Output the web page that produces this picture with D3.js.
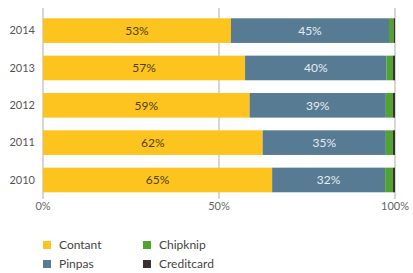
<!DOCTYPE html>
<html>
<head>
<meta charset="utf-8">
<script src="https://cdn.jsdelivr.net/npm/d3@7"></script>
<style>
  body { margin: 0; background: #fff; }
  text { font-family: Lato, "Open Sans", sans-serif; }
</style>
</head>
<body>
<div id="chart"></div>
<script>
// Data
const years = ["2014", "2013", "2012", "2011", "2010"];
const contant = [53.4, 57.4, 58.7, 62.4, 65.1];
const pinpas = [44.9, 40.2, 38.7, 35.0, 32.1];
const chipknip = [1.3, 1.8, 2.0, 2.0, 2.2];
const creditcard = [0.4, 0.6, 0.6, 0.6, 0.6];
const seriesNames = ["Contant", "Pinpas", "Chipknip", "Creditcard"];
const tickValues = [0, 50, 100];

const colors = ["#fdc41f", "#587b94", "#4fa42f", "#3b3030"];
const labelColors = ["#4d3f12", "#e4ecf2"];

const width = 413, height = 273;
const svg = d3.select("#chart").append("svg")
    .attr("width", width)
    .attr("height", height);

const x = d3.scaleLinear().domain([0, 100]).range([43, 395]);
const y = d3.scaleBand().domain(years).range([18.3, 192.3])
    .paddingInner(0.34).paddingOuter(0);

// grid lines
svg.append("g").selectAll("line")
    .data(tickValues)
    .join("line")
    .attr("x1", d => x(d)).attr("x2", d => x(d))
    .attr("y1", 8).attr("y2", 199)
    .attr("stroke", "#c8c8c8")
    .attr("stroke-width", 1.5);

// stacked data
const table = years.map((yr, i) => ({
    year: yr, Contant: contant[i], Pinpas: pinpas[i],
    Chipknip: chipknip[i], Creditcard: creditcard[i]
}));
const stacked = d3.stack().keys(seriesNames)(table);

const layers = svg.append("g").selectAll("g")
    .data(stacked)
    .join("g")
    .attr("fill", (d, i) => colors[i]);

layers.selectAll("rect")
    .data(d => d)
    .join("rect")
    .attr("x", d => x(d[0]))
    .attr("width", d => x(d[1]) - x(d[0]))
    .attr("y", d => y(d.data.year))
    .attr("height", y.bandwidth());

// value labels for Contant and Pinpas
stacked.slice(0, 2).forEach((layer, li) => {
    svg.append("g").selectAll("text")
        .data(layer)
        .join("text")
        .attr("x", d => (x(d[0]) + x(d[1])) / 2)
        .attr("y", d => y(d.data.year) + y.bandwidth() / 2)
        .attr("dy", "0.35em")
        .attr("text-anchor", "middle")
        .attr("font-size", 12)
        .attr("fill", labelColors[li])
        .text(d => Math.round(d[1] - d[0]) + "%");
});

// year labels
svg.append("g").selectAll("text")
    .data(years)
    .join("text")
    .attr("x", 35)
    .attr("y", d => y(d) + y.bandwidth() / 2)
    .attr("dy", "0.35em")
    .attr("text-anchor", "end")
    .attr("font-size", 11)
    .attr("fill", "#555")
    .text(d => d);

// x tick labels
svg.append("g").selectAll("text")
    .data(tickValues)
    .join("text")
    .attr("x", d => x(d))
    .attr("y", 206)
    .attr("dy", "0.35em")
    .attr("text-anchor", "middle")
    .attr("font-size", 11)
    .attr("fill", "#666")
    .text(d => d + "%");

// legend
const legend = svg.append("g").selectAll("g")
    .data(seriesNames)
    .join("g")
    .attr("transform", (d, i) => `translate(${43 + Math.floor(i / 2) * 100},${241 + (i % 2) * 19})`);

legend.append("rect")
    .attr("width", 8).attr("height", 8)
    .attr("fill", (d, i) => colors[i]);

legend.append("text")
    .attr("x", 16).attr("y", 4)
    .attr("dy", "0.35em")
    .attr("font-size", 12)
    .attr("fill", "#444")
    .text(d => d);
</script>
</body>
</html>
